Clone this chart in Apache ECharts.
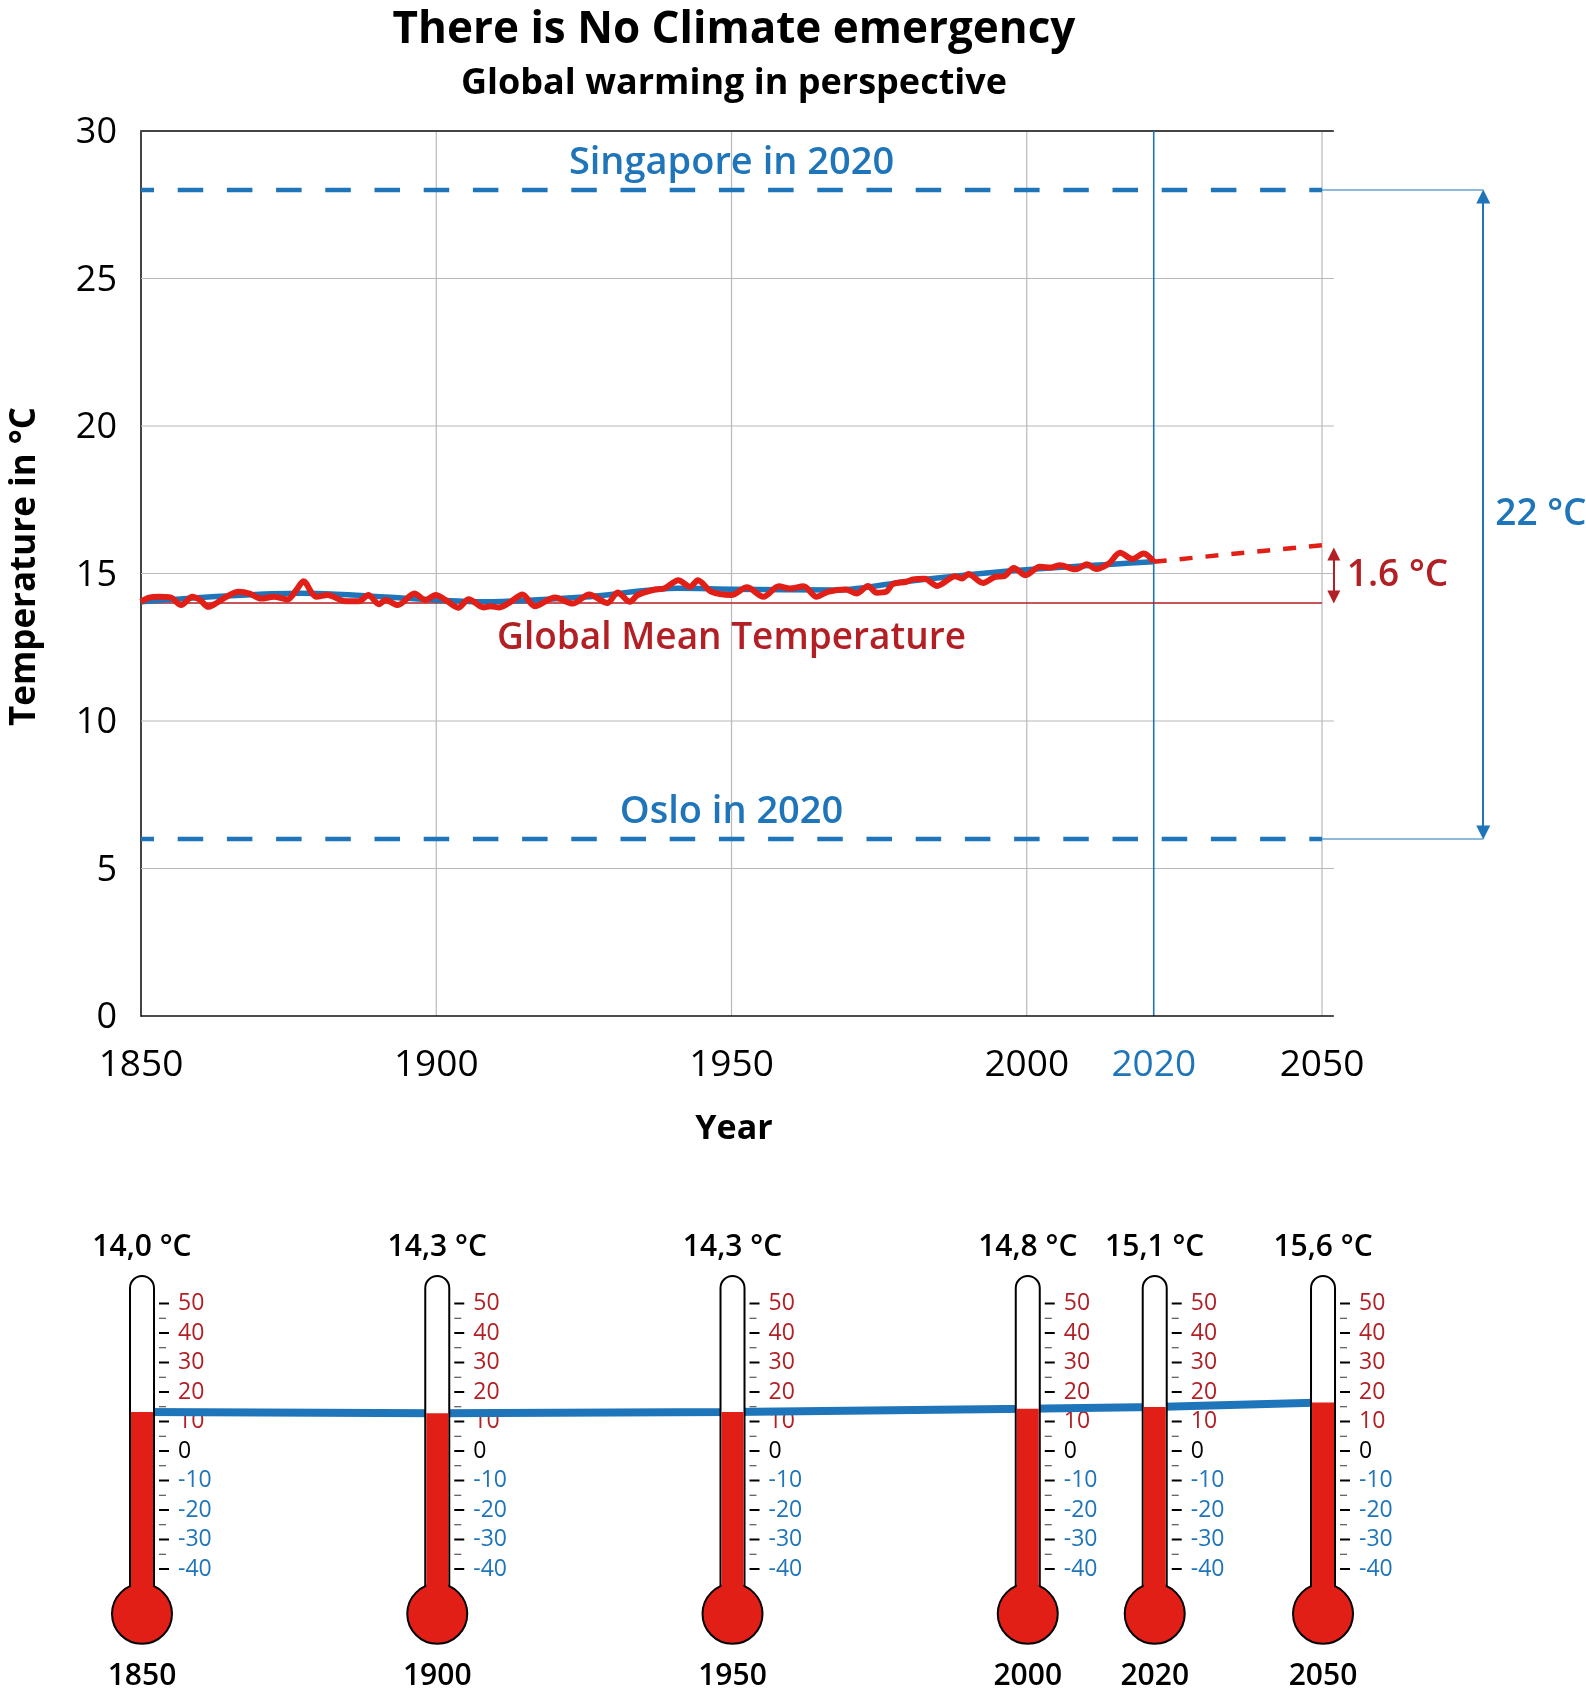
<!DOCTYPE html>
<html>
<head>
<meta charset="utf-8">
<title>There is No Climate emergency</title>
<style>
  html, body { margin: 0; padding: 0; background: #fff; }
  #chart { width: 1586px; height: 1698px; }
</style>
<script src="https://cdn.jsdelivr.net/npm/echarts@6/dist/echarts.min.js"></script>
</head>
<body>
<div id="chart"></div>
<script>
// Data
const tempYears = [1850, 1851.4, 1853, 1855, 1856.8, 1858.7, 1860, 1861.4, 1862.8, 1864.6, 1866.5, 1868.4, 1870.3, 1872.5, 1874.8, 1876.3, 1877.5, 1879, 1879.7, 1881.6, 1884.6, 1886.9, 1888.5, 1890.3, 1891.4, 1893.5, 1896.3, 1898.2, 1899.9, 1901.6, 1903.7, 1905.5, 1908, 1909.2, 1910.7, 1912.6, 1914.6, 1916.7, 1920.1, 1923.1, 1925.9, 1929, 1930.7, 1932.8, 1934.1, 1936.7, 1938.7, 1941, 1943, 1944.3, 1946.6, 1950, 1952.6, 1955.4, 1958, 1959.9, 1962.2, 1964.4, 1966.3, 1969.4, 1971.2, 1973.1, 1974.6, 1976.2, 1977.3, 1979.6, 1980.7, 1982.7, 1984.8, 1987.9, 1989, 1990.1, 1992.6, 1994.7, 1996.2, 1997.8, 1999.8, 2002.2, 2004.1, 2005.6, 2008.3, 2010.2, 2011.7, 2013.9, 2015.8, 2017.9, 2019.8, 2021.5];
const tempValues = [14.04, 14.18, 14.21, 14.19, 13.93, 14.21, 14.1, 13.87, 14.0, 14.23, 14.38, 14.32, 14.15, 14.21, 14.12, 14.44, 14.74, 14.32, 14.21, 14.27, 14.06, 14.06, 14.27, 13.96, 14.1, 13.93, 14.32, 14.1, 14.27, 14.1, 13.84, 14.13, 13.85, 13.89, 13.85, 14.04, 14.29, 13.89, 14.19, 13.98, 14.29, 14.0, 14.36, 14.04, 14.27, 14.44, 14.5, 14.77, 14.55, 14.77, 14.38, 14.27, 14.53, 14.21, 14.57, 14.49, 14.57, 14.21, 14.38, 14.46, 14.32, 14.58, 14.35, 14.38, 14.64, 14.72, 14.8, 14.82, 14.58, 14.91, 14.83, 14.98, 14.68, 14.89, 14.91, 15.19, 14.94, 15.23, 15.2, 15.28, 15.14, 15.31, 15.15, 15.34, 15.7, 15.49, 15.68, 15.4];
const trendYears = [1850, 1877, 1900, 1908, 1925, 1941, 1950, 1968, 1980, 1998, 2021.5];
const trendValues = [14.04, 14.33, 14.1, 14.04, 14.2, 14.5, 14.47, 14.44, 14.74, 15.1, 15.4];
const projectionYears = [2021.5, 2052];
const projectionValues = [15.4, 16.0];
const meanTemperature = 14;
const singaporeTemp = 28;
const osloTemp = 6;
// the picture sets its "2020" tick a little right of where 2020 falls on the scale
const tickPositions = [1850, 1900, 1950, 2000, 2021.5, 2050];
const tickLabels = ['1850', '1900', '1950', '2000', '2020', '2050'];
const gridYears = [1900, 1950, 2000, 2050];
const gridLevels = [5, 10, 15, 20, 25];

const thermTexts = ['14,0 °C', '14,3 °C', '14,3 °C', '14,8 °C', '15,1 °C', '15,6 °C'];
const thermLevels = [13.2, 12.8, 13.2, 14.3, 14.9, 16.4];
const thermMajor = [50, 40, 30, 20, 10, 0, -10, -20, -30, -40];
const thermMinor = [45, 35, 25, 15, 5, -5, -15, -25, -35];

const BLUE = '#1f75b9';
const DARKRED = '#b21f24';
const RED = '#e11f17';
const FONT = '"Open Sans", "Noto Sans", sans-serif';

const chart = echarts.init(document.getElementById('chart'));

// plain line through the library scales, symbol size 0 so item labels can still show
function line(name, pts, color, width, extra) {
    return Object.assign({
        name: name,
        type: 'line',
        data: pts,
        symbol: 'circle',
        symbolSize: 0,
        showSymbol: true,
        silent: true,
        animation: false,
        lineStyle: { color: color, width: width },
        itemStyle: { color: color }
    }, extra || {});
}

function note(x, y, text, color, position, distance, size) {
    return {
        value: [x, y],
        label: {
            show: true,
            formatter: text,
            position: position,
            distance: distance,
            color: color,
            fontFamily: FONT,
            fontWeight: 600,
            fontSize: size
        }
    };
}

function arrow(name, x, from, to, color, size) {
    return {
        name: name,
        type: 'line',
        data: [],
        silent: true,
        animation: false,
        markLine: {
            silent: true,
            animation: false,
            symbol: ['triangle', 'triangle'],
            symbolSize: size,
            label: { show: false },
            lineStyle: { color: color, width: 2, type: 'solid' },
            data: [[{ coord: [x, from] }, { coord: [x, to] }]]
        }
    };
}

// tick marks and numbers beside a thermometer
function renderScale(params, api) {
    const year = api.value(0);
    const cx = api.coord([year, 0])[0];
    const children = [];
    thermMajor.forEach(v => {
        const y = api.coord([year, v])[1];
        children.push({ type: 'rect', shape: { x: cx + 17, y: y - 1, width: 10, height: 2 }, style: { fill: '#000' } });
        children.push({
            type: 'text',
            style: {
                x: cx + 36, y: y, text: String(v),
                fill: v > 0 ? DARKRED : (v < 0 ? BLUE : '#000'),
                font: '23px ' + FONT, textAlign: 'left', textVerticalAlign: 'middle'
            }
        });
    });
    thermMinor.forEach(v => {
        const y = api.coord([year, v])[1];
        children.push({ type: 'rect', shape: { x: cx + 17, y: y - 0.5, width: 7, height: 1 }, style: { fill: '#333' } });
    });
    return { type: 'group', children: children };
}

// tube, bulb and red fill
function renderTube(params, api) {
    const year = api.value(0);
    const cx = api.coord([year, 0])[0];
    const top = api.coord([year, 59.3])[1];
    const bulbY = api.coord([year, -55.2])[1];
    const levelY = api.coord([year, api.value(1)])[1];
    return {
        type: 'group',
        children: [
            { type: 'rect', shape: { x: cx - 12, y: top, width: 24, height: bulbY - top, r: [12, 12, 0, 0] }, style: { fill: '#fff', stroke: '#000', lineWidth: 2 } },
            { type: 'circle', shape: { cx: cx, cy: bulbY, r: 30 }, style: { fill: RED, stroke: '#000', lineWidth: 2 } },
            { type: 'rect', shape: { x: cx - 11, y: levelY, width: 22, height: bulbY - levelY }, style: { fill: RED } }
        ]
    };
}

const series = [];

gridLevels.forEach(v => {
    series.push(line('grid' + v, [[1850, v], [2052, v]], '#b8b8b8', 1.2, { z: 1 }));
});
gridYears.forEach(y => {
    series.push(line('grid' + y, [[y, 0], [y, 30]], '#b8b8b8', 1.2, { z: 1 }));
});
series.push(line('top', [[1850, 30], [2052, 30]], '#444', 2, { z: 1, clip: false }));
series.push(line('bottom', [[1850, 0], [2052, 0]], '#111', 1.6, { z: 3, clip: false }));
series.push(line('2020', [[2021.5, 0], [2021.5, 30]], BLUE, 1.6, { z: 2 }));

const dashed = { color: BLUE, width: 4.5, type: [25.5, 23.7], dashOffset: 12.5 };
series.push(line('Singapore', [[1850, singaporeTemp], note(1950, singaporeTemp, 'Singapore in 2020', BLUE, 'top', 8, 38), [2050, singaporeTemp]], BLUE, 4.5, { z: 2, lineStyle: dashed }));
series.push(line('Oslo', [[1850, osloTemp], note(1950, osloTemp, 'Oslo in 2020', BLUE, 'top', 8, 38), [2050, osloTemp]], BLUE, 4.5, { z: 2, lineStyle: dashed }));
series.push(line('Singapore leader', [[2050, singaporeTemp], [2077.3, singaporeTemp]], BLUE, 1, { z: 2 }));
series.push(line('Oslo leader', [[2050, osloTemp], [2077.3, osloTemp]], BLUE, 1, { z: 2 }));

series.push(line('Mean', [[1850, meanTemperature], note(1950, meanTemperature, 'Global Mean Temperature', DARKRED, 'bottom', 17, 37), [2050, meanTemperature]], DARKRED, 1.5, { z: 3 }));
series.push(line('Trend', trendYears.map((y, i) => [y, trendValues[i]]), BLUE, 5.5, { z: 4, smooth: 0.3 }));
series.push(line('Temperature', tempYears.map((y, i) => [y, tempValues[i]]), RED, 6, { z: 5, smooth: 0.3 }));
series.push(line('Projection', projectionYears.map((y, i) => [y, projectionValues[i]]), RED, 4.5, { z: 5, lineStyle: { color: RED, width: 4.5, type: [13, 13] } }));

series.push(line('22 label', [note(2077.3, 17, '22 °C', BLUE, 'right', 12, 37)], BLUE, 1, { z: 5 }));
series.push(line('1.6 label', [note(2052, 14.93, '1.6 °C', DARKRED, 'right', 13, 37)], DARKRED, 1, { z: 5 }));
series.push(arrow('22 arrow', 2077.3, 6.22, 27.78, BLUE, 14));
series.push(arrow('1.6 arrow', 2052, 14.2, 15.66, DARKRED, 13));

// thermometer row
const thermData = tickPositions.map((y, i) => [y, thermLevels[i]]);
series.push({ name: 'scale', type: 'custom', xAxisIndex: 1, yAxisIndex: 1, z: 2, silent: true, animation: false, clip: false, renderItem: renderScale, data: thermData, encode: { x: 0, y: 1 } });
series.push(line('link', thermData, BLUE, 8, { xAxisIndex: 1, yAxisIndex: 1, z: 3 }));
series.push({ name: 'tube', type: 'custom', xAxisIndex: 1, yAxisIndex: 1, z: 4, silent: true, animation: false, clip: false, renderItem: renderTube, data: thermData, encode: { x: 0, y: 1 } });

const hidden = { show: false };
const tickText = v => tickLabels[tickPositions.indexOf(v)];

chart.setOption({
    backgroundColor: '#fff',
    animation: false,
    title: [
        { text: 'There is No Climate emergency', left: 729, top: 3, textAlign: 'center', textStyle: { fontFamily: FONT, fontWeight: 700, fontSize: 44, color: '#000' } },
        { text: 'Global warming in perspective', left: 729, top: 61, textAlign: 'center', textStyle: { fontFamily: FONT, fontWeight: 700, fontSize: 36, color: '#000' } },
        { text: 'Year', left: 729, top: 1107, textAlign: 'center', textStyle: { fontFamily: FONT, fontWeight: 700, fontSize: 34, color: '#000' } }
    ],
    grid: [
        { left: 141, top: 131, width: 1387.7, height: 885 },
        { left: 142, top: 1274, width: 1387.7, height: 383.5 }
    ],
    xAxis: [
        {
            type: 'value', gridIndex: 0, min: 1850, max: 2085,
            axisLine: hidden, axisTick: hidden, splitLine: hidden,
            axisLabel: {
                customValues: tickPositions, margin: 31,
                color: v => (String(v) === '2021.5' ? BLUE : '#000'),
                formatter: tickText,
                fontFamily: FONT, fontSize: 37
            }
        },
        {
            type: 'value', gridIndex: 1, min: 1850, max: 2085,
            axisLine: hidden, axisTick: hidden, splitLine: hidden,
            axisLabel: {
                customValues: tickPositions, margin: 4,
                formatter: tickText,
                color: '#000', fontFamily: FONT, fontWeight: 600, fontSize: 30
            }
        },
        {
            type: 'value', gridIndex: 1, min: 1850, max: 2085, position: 'top',
            axisLine: hidden, axisTick: hidden, splitLine: hidden,
            axisLabel: {
                customValues: tickPositions, margin: 12,
                formatter: v => thermTexts[tickPositions.indexOf(v)],
                color: '#000', fontFamily: FONT, fontWeight: 600, fontSize: 30
            }
        }
    ],
    yAxis: [
        {
            type: 'value', gridIndex: 0, min: 0, max: 30, interval: 5,
            name: 'Temperature in °C', nameLocation: 'middle', nameGap: 98,
            nameTextStyle: { fontFamily: FONT, fontWeight: 700, fontSize: 35, color: '#000', padding: [0, 0, 0, 14] },
            axisLine: { show: true, lineStyle: { color: '#444', width: 2 } },
            axisTick: hidden, splitLine: hidden,
            axisLabel: { margin: 24, color: '#000', fontFamily: FONT, fontSize: 36, verticalAlign: 'top', lineHeight: 4 }
        },
        {
            type: 'value', gridIndex: 1, min: -70, max: 60,
            axisLine: hidden, axisTick: hidden, splitLine: hidden, axisLabel: hidden
        }
    ],
    series: series
});
</script>
</body>
</html>
